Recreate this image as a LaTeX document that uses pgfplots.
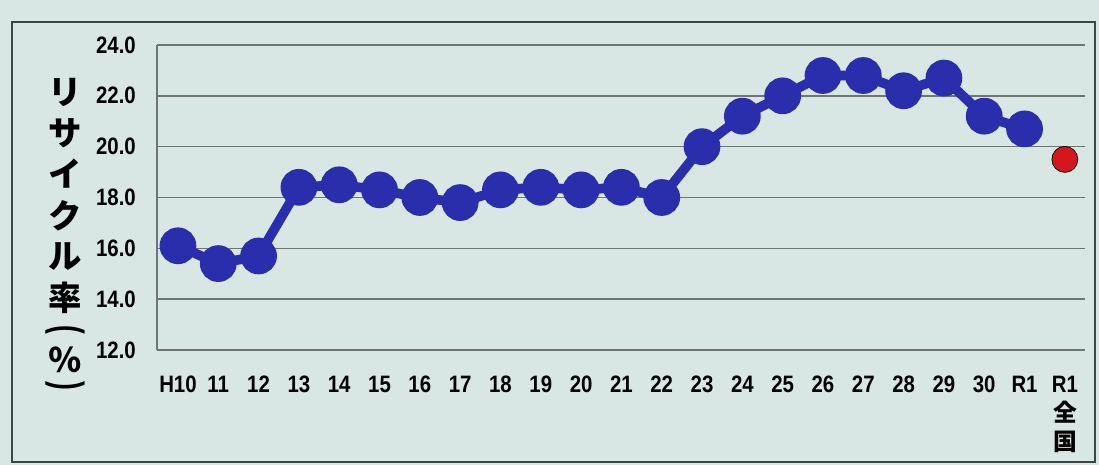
\documentclass[border=0pt]{standalone}
\usepackage{pgfplots}
\pgfplotsset{compat=1.18}
\usepackage{fontspec}
\setmainfont{Liberation Sans}
\newfontfamily\tickfont{Liberation Sans}[FakeStretch=0.86]
\newfontfamily\cjk{Noto Sans CJK JP}
\definecolor{bgc}{RGB}{216,230,228}
\definecolor{framec}{RGB}{60,70,70}
\definecolor{gridc}{RGB}{110,118,114}
\definecolor{lineblue}{RGB}{42,46,172}
\definecolor{dotred}{RGB}{212,22,30}

\begin{document}
\begin{tikzpicture}
	% background and frame (1px = 0.02cm)
	\fill[bgc] (0,0) rectangle (21.98,-9.30);
	\draw[framec, line width=1.2pt] (0.24,-0.44) rectangle (21.90,-9.24);
	% vertical y label
	\foreach \c/\yy in {リ/92,サ/133,イ/174,ク/216,ル/257,率/298,％/360}
		\node[font=\cjk\bfseries\fontsize{19}{19}\selectfont, inner sep=0pt, anchor=center] at (1.30,-\yy*0.02) {\c};
	\node[font=\bfseries\fontsize{15}{15}\selectfont, inner sep=0pt, rotate=-90, yscale=1.6] at (1.30,-330*0.02) {(};
	\node[font=\bfseries\fontsize{15}{15}\selectfont, inner sep=0pt, rotate=-90, yscale=1.6] at (1.30,-386*0.02) {)};
	\begin{axis}[
	at={(3.14cm,-7.00cm)},
	anchor=south west,
	scale only axis,
	width=18.56cm,
	height=6.1cm,
	xmin=-0.52, xmax=22.5,
	ymin=12, ymax=24,
	ytick={12,14,...,24},
	xtick={0,...,22},
	xticklabels={H10,11,12,13,14,15,16,17,18,19,20,21,22,23,24,25,26,27,28,29,30,R1,{R1\\{\cjk\bfseries 全}\\{\cjk\bfseries 国}}},
	/pgf/number format/assume math mode=true,
	/pgf/number format/fixed,
	/pgf/number format/fixed zerofill,
	/pgf/number format/precision=1,
	ymajorgrids,
	grid style={gridc, line width=0.9pt},
	axis x line*=bottom,
	axis y line*=left,
	axis line style={gridc, line width=0.9pt, -},
	major tick length=0pt,
	tick style={draw=none},
	ticklabel style={font=\tickfont\bfseries\fontsize{13.5}{16.5}\selectfont},
	yticklabel style={xshift=-0.3cm},
	xticklabel style={align=center, anchor=north, yshift=-0.4cm},
	clip=false,
	]
	\addplot[lineblue, line width=5.5pt, mark=*, mark size=7.7pt, mark options={draw=none, fill=lineblue}] coordinates {
		(0,16.1) (1,15.4) (2,15.7) (3,18.4) (4,18.5) (5,18.3) (6,18.0) (7,17.8)
		(8,18.3) (9,18.4) (10,18.3) (11,18.4) (12,18.0) (13,20.0) (14,21.2)
		(15,22.0) (16,22.8) (17,22.8) (18,22.2) (19,22.7) (20,21.2) (21,20.7)
	};
	\addplot[only marks, mark=*, mark size=7.4pt, mark options={draw=none, fill=dotred}] coordinates {
		(22,19.5)
	};
	\end{axis}
\end{tikzpicture}
\end{document}
